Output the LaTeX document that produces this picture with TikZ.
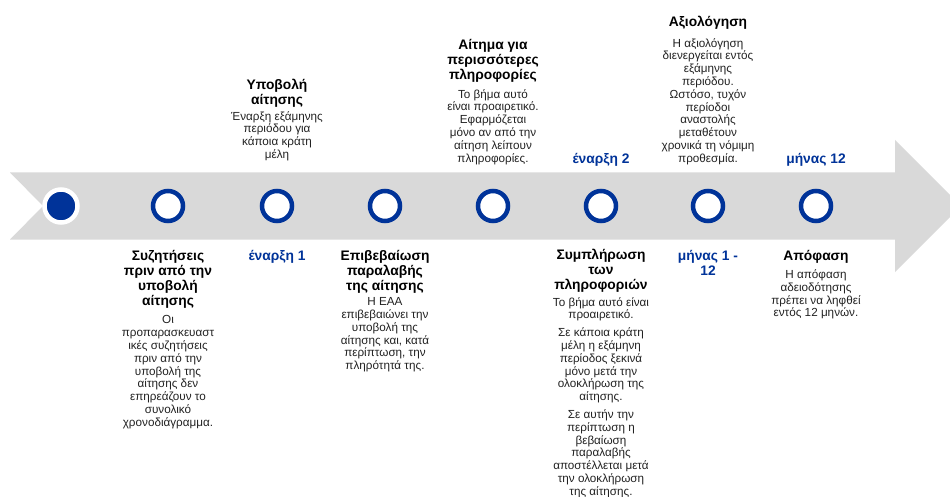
\documentclass[tikz,border=0pt]{standalone}
\usepackage{fontspec}
\setmainfont{Liberation Sans}
\definecolor{eublue}{HTML}{003399}
\definecolor{bandgrey}{HTML}{D9D9D9}
\definecolor{bodytext}{HTML}{222222}
\begin{document}
\begin{tikzpicture}[x=1pt,y=-1pt,
  ttl/.style={align=center,font=\fontsize{13.8}{15}\selectfont\bfseries,inner sep=0pt,anchor=north},
  bdy/.style={align=center,font=\fontsize{11.7}{12.8}\selectfont,inner sep=0pt,text=bodytext,anchor=north},
  lbl/.style={align=center,font=\fontsize{13.8}{15}\selectfont\bfseries,text=eublue,inner sep=0pt,anchor=north},
  ring/.style={circle,draw=eublue,line width=4.5pt,minimum size=30pt,inner sep=0pt,fill=white},
  dot/.style={circle,draw=white,fill=eublue,line width=4.5pt,minimum size=33pt,inner sep=0pt}]
\useasboundingbox (0,0) rectangle (950,497);
\fill[white] (0,0) rectangle (950,497);
% band arrow
\begin{scope}
\clip (0,0) rectangle (950,497);
\fill[bandgrey] (10,172.5) -- (895,172.5) -- (895,140) -- (961,206) -- (895,272) -- (895,239.5) -- (10,239.5) -- (43,206) -- cycle;
\end{scope}
% milestones
\node[dot]  (c0) at (61,206) {};
\node[ring] (c1) at (168,206) {};
\node[ring] (c2) at (277,206) {};
\node[ring] (c3) at (385,206) {};
\node[ring] (c4) at (493,206) {};
\node[ring] (c5) at (601,206) {};
\node[ring] (c6) at (708,206) {};
\node[ring] (c7) at (816,206) {};
% above
\node[ttl] (t2) at (277,79) {Υποβολή\\αίτησης};
\node[bdy] (b2) at (277,111) {Έναρξη εξάμηνης\\περιόδου για\\κάποια κράτη\\μέλη};
\node[ttl] (t4) at (493,39) {Αίτημα για\\περισσότερες\\πληροφορίες};
\node[bdy] (b4) at (493,89) {Το βήμα αυτό\\είναι προαιρετικό.\\Εφαρμόζεται\\μόνο αν από την\\αίτηση λείπουν\\πληροφορίες.};
\node[lbl] (l5) at (601,153) {έναρξη 2};
\node[ttl] (t6) at (708,16) {Αξιολόγηση};
\node[bdy] (b6) at (708,38) {Η αξιολόγηση\\διενεργείται εντός\\εξάμηνης\\περιόδου.\\Ωστόσο, τυχόν\\περίοδοι\\αναστολής\\μεταθέτουν\\χρονικά τη νόμιμη\\προθεσμία.};
\node[lbl] (l7) at (816,153) {μήνας 12};
% below
\node[ttl] (t1) at (168,250) {Συζητήσεις\\πριν από την\\υποβολή\\αίτησης};
\node[bdy] (b1) at (168,315.5) {Οι\\προπαρασκευαστ\\ικές συζητήσεις\\πριν από την\\υποβολή της\\αίτησης δεν\\επηρεάζουν το\\συνολικό\\χρονοδιάγραμμα.};
\node[lbl] (l2) at (277,250) {έναρξη 1};
\node[ttl] (t3) at (385,250) {Επιβεβαίωση\\παραλαβής\\της αίτησης};
\node[bdy] (b3) at (385,297.5) {Η ΕΑΑ\\επιβεβαιώνει την\\υποβολή της\\αίτησης και, κατά\\περίπτωση, την\\πληρότητά της.};
\node[ttl] (t5) at (601,248.5) {Συμπλήρωση\\των\\πληροφοριών};
\node[bdy] (b5) at (601,297) {Το βήμα αυτό είναι\\προαιρετικό.\\[5pt]Σε κάποια κράτη\\μέλη η εξάμηνη\\περίοδος ξεκινά\\μόνο μετά την\\ολοκλήρωση της\\αίτησης.\\[5pt]Σε αυτήν την\\περίπτωση η\\βεβαίωση\\παραλαβής\\αποστέλλεται μετά\\την ολοκλήρωση\\της αίτησης.};
\node[lbl] (l6) at (708,250) {μήνας 1 -\\12};
\node[ttl] (t7) at (816,250) {Απόφαση};
\node[bdy] (b7) at (816,269.5) {Η απόφαση\\αδειοδότησης\\πρέπει να ληφθεί\\εντός 12 μηνών.};
\end{tikzpicture}
\end{document}
